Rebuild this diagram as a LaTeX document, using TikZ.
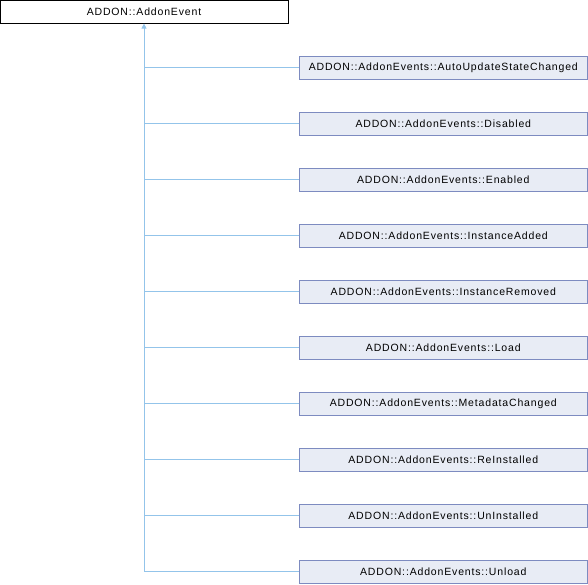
\documentclass[tikz,border=0pt]{standalone}
\usepackage{fontspec}
\setmainfont{Liberation Sans}[LetterSpace=8]
\usetikzlibrary{arrows.meta}
\definecolor{boxfill}{HTML}{E8ECF5}
\definecolor{boxline}{HTML}{7D8BC0}
\definecolor{edge}{HTML}{93C4EA}
\begin{document}
\begin{tikzpicture}[x=1pt,y=-1pt,
  base/.style={draw=black,fill=white,line width=0.8pt,minimum width=288pt,minimum height=23pt,inner sep=0pt,font=\fontsize{10.5}{12}\selectfont},
  child/.style={draw=boxline,fill=boxfill,line width=0.8pt,minimum width=288pt,minimum height=23pt,inner sep=0pt,font=\fontsize{10.5}{12}\selectfont},
  link/.style={draw=edge,line width=0.8pt}]
\useasboundingbox (0,0) rectangle (588,584);
\node[base] (p) at (144,11.7) {ADDON::AddonEvent};
\foreach \n/\t [count=\i from 0] in {a/AutoUpdateStateChanged,b/Disabled,c/Enabled,d/InstanceAdded,e/InstanceRemoved,f/Load,g/MetadataChanged,h/ReInstalled,i/UnInstalled,j/Unload}{
  \node[child] (\n) at (443.3,67.5+56*\i) {ADDON::AddonEvents::\t};
  \coordinate (k\n) at (144,67.5+56*\i);
  \draw[link] (k\n) -- (\n.west);
}
\draw[link,-{Triangle[width=5pt,length=5pt]}] (kj) -- (p.south);
\end{tikzpicture}
\end{document}
